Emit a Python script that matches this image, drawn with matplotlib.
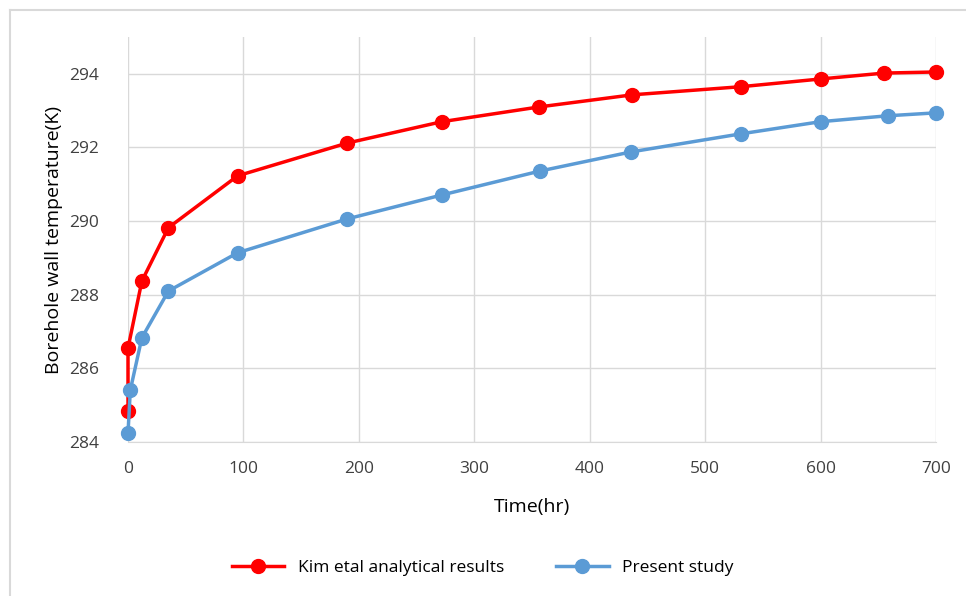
import matplotlib.pyplot as plt
from matplotlib.lines import Line2D

# data
kim_time = [0, 0, 12, 35, 95, 190, 272, 356, 437, 531, 600, 655, 700]
kim_temp = [284.84, 286.55, 288.37, 289.82, 291.23, 292.12, 292.70, 293.10, 293.43, 293.65, 293.86, 294.02, 294.05]

present_time = [0, 2, 12, 35, 95, 190, 272, 357, 436, 531, 600, 658, 700]
present_temp = [284.24, 285.41, 286.83, 288.10, 289.14, 290.06, 290.71, 291.36, 291.88, 292.37, 292.70, 292.86, 292.94]

x_ticks = [0, 100, 200, 300, 400, 500, 600, 700]
y_ticks = [284, 286, 288, 290, 292, 294]

plt.rcParams['font.family'] = ['Open Sans', 'DejaVu Sans']

fig = plt.figure(figsize=(9.66, 5.96), dpi=100)
ax = fig.add_axes([128 / 966, 1 - 442 / 596, (936 - 128) / 966, (442 - 37) / 596])

ax.plot(kim_time, kim_temp, color='#ff0000', lw=2.5, marker='o', ms=10,
        label='Kim etal analytical results', zorder=3, clip_on=False)
ax.plot(present_time, present_temp, color='#5b9bd5', lw=2.5, marker='o', ms=10,
        label='Present study', zorder=4, clip_on=False)

ax.set_xlim(0, 700)
ax.set_ylim(284, 295)
ax.set_xticks(x_ticks)
ax.set_yticks(y_ticks)
ax.grid(True, color='#d9d9d9', lw=1)
ax.set_axisbelow(True)
for s in ['top', 'right', 'left']:
    ax.spines[s].set_visible(False)
ax.spines['bottom'].set_color('#d9d9d9')
ax.tick_params(length=0, labelsize=12.5, colors='#404040')
ax.tick_params(axis='y', pad=21)
ax.tick_params(axis='x', pad=14)
ax.set_xlabel('Time(hr)', fontsize=14, color='#000000', labelpad=15)
ax.set_ylabel('Borehole wall temperature(K)', fontsize=14, color='#000000', labelpad=4)

fig.legend(loc='center', bbox_to_anchor=(0.5, 1 - 568 / 596), ncol=2, frameon=False,
           fontsize=12.5, handlelength=3, columnspacing=3)

# outer chart border (left and top edges visible)
fig.add_artist(Line2D([10 / 966, 10 / 966], [0, 1 - 10 / 596], color='#d9d9d9', lw=1.5))
fig.add_artist(Line2D([10 / 966, 1], [1 - 10 / 596, 1 - 10 / 596], color='#d9d9d9', lw=1.5))

fig.savefig('out.png', dpi=100)
